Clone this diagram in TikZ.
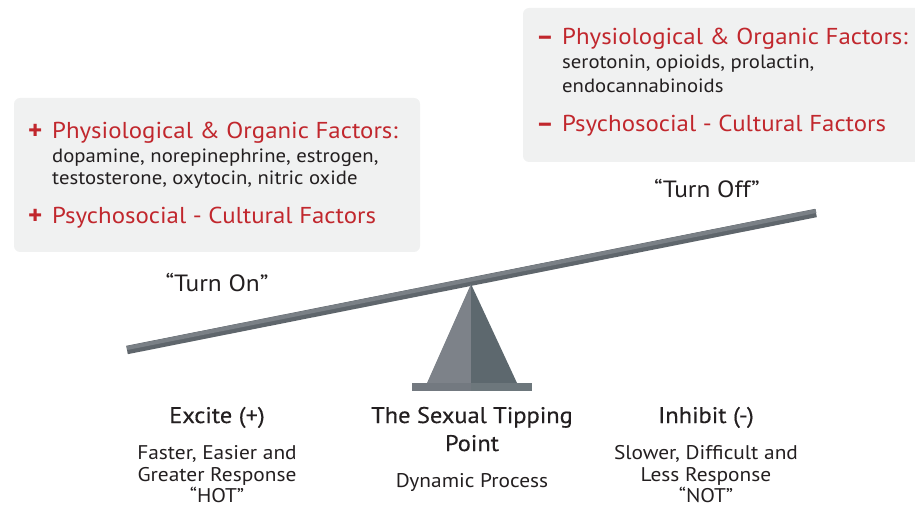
\documentclass[tikz,border=0pt]{standalone}
\usepackage{fontspec}
\usetikzlibrary{calc}
\setmainfont{PT Sans}[FakeStretch=1.08]
\newfontfamily\medfont{PT Sans}[FakeBold=0.4,FakeStretch=1.08]
\newfontfamily\signfont{PT Sans Bold}
\definecolor{myred}{HTML}{C1272D}
\definecolor{boxgray}{HTML}{F0F1F1}
\definecolor{txt}{HTML}{231F20}
\definecolor{beamlight}{HTML}{7A8086}
\definecolor{beamdark}{HTML}{5F666C}
\definecolor{fulclight}{HTML}{7D8289}
\definecolor{fulcdark}{HTML}{5D686E}
\definecolor{platform}{HTML}{737980}
\begin{document}
\begin{tikzpicture}[x=1pt,y=-1pt,
  factbox/.style={fill=boxgray,rounded corners=6pt,draw=none},
  head/.style={anchor=base west,inner sep=0pt,text=myred,font=\fontsize{23}{26}\selectfont},
  sign/.style={anchor=base west,inner sep=0pt,text=myred,font=\signfont\fontsize{27}{28}\selectfont},
  body/.style={anchor=base west,inner sep=0pt,text=txt,font=\fontsize{19.2}{22}\selectfont},
  quote/.style={anchor=base,inner sep=0pt,text=txt,font=\fontsize{23.5}{26}\selectfont},
  title/.style={anchor=base,inner sep=0pt,text=txt,font=\medfont\fontsize{22.6}{26}\selectfont},
  sub/.style={anchor=base,inner sep=0pt,text=txt,font=\fontsize{19.8}{22}\selectfont}]
\useasboundingbox (0,0) rectangle (915,510);
% boxes
\fill[factbox] (14,98) rectangle (420,252);
\fill[factbox] (523,8) rectangle (921,162);
% left box text
\node[sign] (lp1) at (28,140) {+};
\node[head] (lh1) at (52,139) {Physiological \& Organic Factors:};
\node[body] (lb1) at (52,163) {dopamine, norepinephrine, estrogen,};
\node[body] (lb2) at (52,185) {testosterone, oxytocin, nitric oxide};
\node[sign] (lp2) at (28,225) {+};
\node[head] (lh2) at (52,224) {Psychosocial - Cultural Factors};
% right box text
\node[sign] (rm1) at (536,46) {–};
\node[head] (rh1) at (562,45) {Physiological \& Organic Factors:};
\node[body] (rb1) at (562,69) {serotonin, opioids, prolactin,};
\node[body] (rb2) at (562,93) {endocannabinoids};
\node[sign] (rm2) at (536,133) {–};
\node[head] (rh2) at (562,132) {Psychosocial - Cultural Factors};
% turn on/off
\node[quote] (off) at (707,198) {“Turn Off”};
\node[quote] (on) at (217,292) {“Turn On”};
% beam
\coordinate (bl) at (127,350);
\coordinate (br) at (816,213);
\draw[line width=8.5pt,beamdark] (bl) -- (br);
\draw[line width=4pt,beamlight] ($(bl)+(0,-2)$) -- ($(br)+(0,-2)$);
% fulcrum
\coordinate (apex) at (471,284);
\fill[fulclight] (apex) -- (427,383) -- (471,383) -- cycle;
\fill[fulcdark] (apex) -- (471,383) -- (517,383) -- cycle;
\fill[platform] (412,383) rectangle (471,391);
\fill[fulcdark!90!white] (471,383) rectangle (532,391);
% bottom labels
\node[title] (ex) at (217,423) {Excite (+)};
\node[sub] (ex1) at (217,459) {Faster, Easier and};
\node[sub] (ex2) at (217,481) {Greater Response};
\node[sub] (ex3) at (217,502) {“HOT”};
\node[title] (tp) at (472,423) {The Sexual Tipping};
\node[title] (tp2) at (472,451) {Point};
\node[sub] (tp3) at (472,487) {Dynamic Process};
\node[title] (in) at (706,423) {Inhibit (-)};
\node[sub] (in1) at (706,459) {Slower, Difficult and};
\node[sub] (in2) at (706,481) {Less Response};
\node[sub] (in3) at (706,502) {“NOT”};
\end{tikzpicture}
\end{document}
